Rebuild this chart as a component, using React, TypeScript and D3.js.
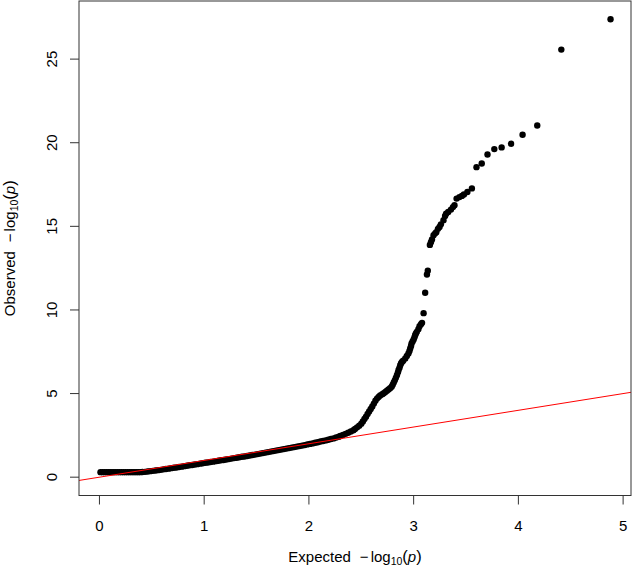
import React from "react";
import * as d3 from "d3";

const W = 632;
const H = 569;

// Expected -log10(p) values
const expected: number[] = [
  0.01, 0.03, 0.05, 0.07, 0.09, 0.11, 0.13, 0.15, 0.17, 0.19, 0.21, 0.23, 0.25, 0.27, 0.29, 0.31, 0.33, 0.35, 0.37, 0.39,
  0.41, 0.435, 0.46, 0.485, 0.51, 0.535, 0.56, 0.585, 0.61, 0.635, 0.66, 0.685, 0.71, 0.735, 0.76, 0.785,
  0.81, 0.835, 0.86, 0.885, 0.91, 0.935, 0.96, 0.985, 1.01, 1.035, 1.06, 1.085, 1.11, 1.135, 1.16, 1.185,
  1.21, 1.235, 1.26, 1.285, 1.31, 1.335, 1.36, 1.385, 1.41, 1.435, 1.46, 1.485, 1.51, 1.535, 1.56, 1.585,
  1.61, 1.635, 1.66, 1.685, 1.71, 1.735, 1.76, 1.785, 1.81, 1.835, 1.86, 1.885, 1.91, 1.935, 1.96, 1.985,
  2.01, 2.035, 2.06, 2.085, 2.11, 2.135, 2.16, 2.185, 2.21, 2.235, 2.26, 2.285,
  2.30, 2.325, 2.35, 2.375, 2.40, 2.425, 2.44, 2.46, 2.48, 2.50, 2.515, 2.53, 2.545, 2.56, 2.575, 2.59,
  2.605, 2.62, 2.635, 2.65, 2.665, 2.68, 2.70, 2.715, 2.73, 2.745, 2.76, 2.775, 2.79, 2.80, 2.81, 2.82,
  2.83, 2.84, 2.85, 2.856, 2.865, 2.872, 2.88, 2.89, 2.90, 2.92, 2.935, 2.95, 2.96, 2.967, 2.975, 2.98,
  2.99, 3.0, 3.008, 3.015, 3.022, 3.03, 3.045, 3.056, 3.07, 3.08,
  3.095, 3.11, 3.127, 3.135, 3.155, 3.165, 3.175, 3.19, 3.205, 3.216, 3.232, 3.247, 3.26, 3.285, 3.30, 3.31,
  3.33, 3.356, 3.375, 3.39, 3.41, 3.437, 3.46, 3.48, 3.513, 3.556, 3.60, 3.65, 3.705, 3.77, 3.84, 3.93,
  4.04, 4.18, 4.41, 4.88,
];

// Observed -log10(p) values
const observed: number[] = [
  0.3, 0.3, 0.3, 0.3, 0.3, 0.3, 0.3, 0.3, 0.3, 0.3, 0.3, 0.3, 0.3, 0.3, 0.3, 0.3, 0.3, 0.3, 0.3, 0.3,
  0.31, 0.32, 0.34, 0.36, 0.38, 0.40, 0.42, 0.44, 0.47, 0.49, 0.51, 0.54, 0.56, 0.58, 0.61, 0.63,
  0.66, 0.68, 0.71, 0.73, 0.76, 0.78, 0.81, 0.83, 0.86, 0.88, 0.91, 0.93, 0.96, 0.98, 1.01, 1.03,
  1.06, 1.08, 1.11, 1.14, 1.16, 1.19, 1.22, 1.24, 1.27, 1.30, 1.33, 1.35, 1.38, 1.41, 1.44, 1.47,
  1.50, 1.53, 1.56, 1.59, 1.62, 1.65, 1.68, 1.71, 1.74, 1.77, 1.80, 1.83, 1.86, 1.89, 1.92, 1.96,
  1.99, 2.02, 2.06, 2.09, 2.13, 2.16, 2.20, 2.24, 2.28, 2.32, 2.37, 2.42,
  2.46, 2.53, 2.59, 2.66, 2.73, 2.81, 2.88, 2.98, 3.08, 3.2, 3.33, 3.48, 3.62, 3.78, 3.93, 4.08,
  4.23, 4.4, 4.57, 4.70, 4.80, 4.89, 4.96, 5.02, 5.10, 5.17, 5.25, 5.32, 5.41, 5.53, 5.66, 5.79,
  5.94, 6.10, 6.27, 6.41, 6.55, 6.70, 6.82, 6.90, 6.97, 7.10, 7.25, 7.40, 7.55, 7.70, 7.85, 8.0,
  8.12, 8.24, 8.37, 8.50, 8.60, 8.69, 8.85, 9.03, 9.15, 9.23,
  9.81, 11.03, 12.12, 12.35, 13.89, 14.05, 14.21, 14.47, 14.58, 14.65, 14.85, 14.96, 15.12, 15.36, 15.62, 15.76,
  15.86, 16.0, 16.15, 16.26, 16.66, 16.75, 16.82, 16.9, 17.05, 17.27, 18.54, 18.76, 19.30, 19.62, 19.72, 19.94,
  20.48, 21.03, 25.57, 27.38,
];

const xTicks = [0, 1, 2, 3, 4, 5];
const yTicks = [0, 5, 10, 15, 20, 25];

const PLOT = { left: 79, right: 631, top: 1, bottom: 495.5 };

function rExtend([a, b]: [number, number]): [number, number] {
  const d = (b - a) * 0.04;
  return [a - d, b + d];
}

export default function App() {
  const xMax = d3.max(expected) as number;
  const yMax = d3.max(observed) as number;
  const x = d3.scaleLinear().domain(rExtend([0, xMax])).range([PLOT.left, PLOT.right]);
  const y = d3.scaleLinear().domain(rExtend([0, yMax])).range([PLOT.bottom, PLOT.top]);
  const [x0, x1] = x.domain();
  const font = "'Liberation Sans', Arial, Helvetica, sans-serif";
  const axisColor = "#333";
  const cx = (PLOT.left + PLOT.right) / 2;
  const cy = (PLOT.top + PLOT.bottom) / 2;

  const label = (prefix: string) => (
    <>
      <tspan fill="#000">{prefix}</tspan>
      <tspan fill="#000" dx={9}>{"\u2212"}</tspan>
      <tspan fill="#000" dx={2}>log</tspan>
      <tspan fill="#000" fontSize={10.5} dy={3}>10</tspan>
      <tspan fill="#000" dy={-3} fontSize={16.5}>(</tspan>
      <tspan fill="#000" fontStyle="italic">p</tspan>
      <tspan fill="#000" fontSize={16.5}>)</tspan>
    </>
  );

  return (
    <svg
      width={W}
      height={H}
      style={{ position: "absolute", left: 0, top: 0, background: "#fff" }}
      fontFamily={font}
    >
      <defs>
        <clipPath id="plotclip">
          <rect x={PLOT.left} y={PLOT.top} width={PLOT.right - PLOT.left} height={PLOT.bottom - PLOT.top} />
        </clipPath>
      </defs>
      <rect width={W} height={H} fill="#fff" />
      {/* points */}
      <g fill="#000">
        {expected.map((e, i) => (
          <circle key={i} cx={x(e)} cy={y(observed[i])} r={3.2} />
        ))}
      </g>
      {/* y = x reference line */}
      <line
        clipPath="url(#plotclip)"
        x1={x(x0)}
        y1={y(x0)}
        x2={x(x1)}
        y2={y(x1)}
        stroke="#ff0000"
        strokeWidth={1}
      />
      {/* box */}
      <rect
        x={PLOT.left}
        y={PLOT.top}
        width={PLOT.right - PLOT.left}
        height={PLOT.bottom - PLOT.top}
        fill="none"
        stroke={axisColor}
        strokeWidth={1}
      />
      {/* x axis ticks */}
      <g>
        {xTicks.map((t) => (
          <g key={t}>
            <line x1={x(t)} x2={x(t)} y1={PLOT.bottom} y2={PLOT.bottom + 9} stroke={axisColor} />
            <text x={x(t)} y={530.5} textAnchor="middle" fontSize={15} fill="#000">
              {t}
            </text>
          </g>
        ))}
      </g>
      {/* y axis ticks */}
      <g>
        {yTicks.map((t) => (
          <g key={t}>
            <line x1={PLOT.left - 9} x2={PLOT.left} y1={y(t)} y2={y(t)} stroke={axisColor} />
            <text
              transform={`translate(56.5,${y(t)}) rotate(-90)`}
              textAnchor="middle"
              fontSize={15}
              fill="#000"
            >
              {t}
            </text>
          </g>
        ))}
      </g>
      <text x={cx} y={562} textAnchor="middle" fontSize={15} fill="#000">
        {label("Expected")}
      </text>
      <text transform={`translate(14.5,${cy}) rotate(-90)`} textAnchor="middle" fontSize={15} fill="#000">
        {label("Observed")}
      </text>
    </svg>
  );
}
